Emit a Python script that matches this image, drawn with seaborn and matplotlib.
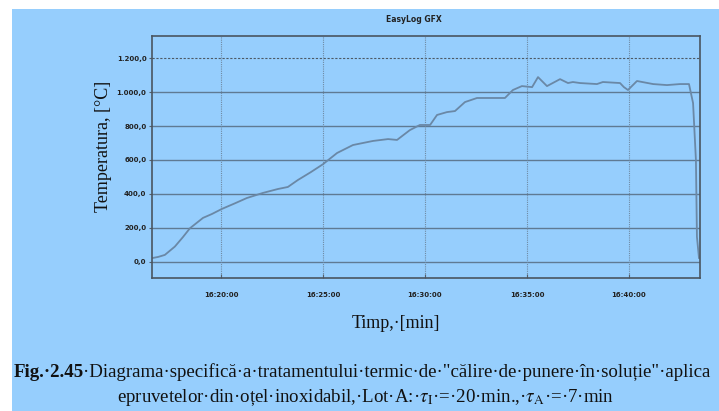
import matplotlib
matplotlib.use("Agg")
import matplotlib.pyplot as plt
import seaborn as sns
import pandas as pd
from matplotlib.patches import Rectangle

# minutes after 16:00
minutes = [16.62, 16.92, 17.25, 17.74, 18.13, 18.48, 19.12, 19.56, 20.05, 20.69,
           21.27, 22.06, 22.79, 23.28, 23.77, 24.40,
           25.0, 25.69, 26.47, 27.45, 28.19, 28.63, 29.26, 29.75, 30.25, 30.59,
           31.08, 31.47, 31.96, 32.55, 33.68, 33.92, 34.31, 34.75, 35.25, 35.54,
           35.98, 36.62, 37.01, 37.25, 37.60, 38.43, 38.72, 39.56, 39.75, 39.95,
           40.39, 41.18, 41.86, 42.50, 42.94, 43.14, 43.28, 43.33, 43.43]
temperature = [22, 29, 41, 90, 145, 198, 259, 282, 312, 345,
               376, 406, 429, 441, 482, 528,
               575, 641, 688, 712, 723, 718, 776, 806, 806, 865,
               882, 888, 941, 965, 965, 965, 1012, 1035, 1029, 1088,
               1035, 1076, 1053, 1059, 1053, 1047, 1059, 1053, 1029, 1012,
               1065, 1047, 1041, 1047, 1047, 935, 600, 147, 23]

x_ticks = [20, 25, 30, 35, 40]
x_tick_labels = ["16:20:00", "16:25:00", "16:30:00", "16:35:00", "16:40:00"]
y_ticks = [0, 200, 400, 600, 800, 1000, 1200]
y_tick_labels = ["0,0", "200,0", "400,0", "600,0", "800,0", "1.000,0", "1.200,0"]

df = pd.DataFrame({"t": minutes, "T": temperature})

BLUE = "#96cefd"
W, H = 719, 411
fig = plt.figure(figsize=(W / 100, H / 100), dpi=100, facecolor="white")
plt.rcParams["mathtext.fontset"] = "stix"

# blue background block
fig.patches.append(Rectangle((12 / W, 0), 1 - 12 / W, 1 - 9 / H,
                             transform=fig.transFigure, facecolor=BLUE,
                             edgecolor="none", zorder=-10))

ax = fig.add_axes([152 / W, 1 - 278 / H, (700 - 152) / W, (278 - 36) / H])
ax.set_facecolor(BLUE)

sns.lineplot(data=df, x="t", y="T", ax=ax, color="#6a88a6", linewidth=1.3)

ax.set_xlim(16.62, 43.48)
ax.set_ylim(-95, 1330)
ax.set_xticks(x_ticks)
ax.set_xticklabels(x_tick_labels)
ax.set_yticks(y_ticks)
ax.set_yticklabels(y_tick_labels)
ax.set_xlabel("")
ax.set_ylabel("")

for lab in ax.get_xticklabels() + ax.get_yticklabels():
    lab.set_fontsize(5)
    lab.set_fontweight("bold")
    lab.set_color("#222222")

ax.tick_params(axis="x", direction="in", length=3, width=0.8, color="#55606b", pad=10)
ax.tick_params(axis="y", direction="out", length=2, width=0.8, color="#55606b", pad=2)

for y in y_ticks:
    if y == 1200:
        ax.axhline(y, color="#4d5a66", linewidth=0.8, linestyle=(0, (2, 1.5)), zorder=0)
    else:
        ax.axhline(y, color="#5f7a93", linewidth=1.0, zorder=0)
for x in x_ticks:
    ax.axvline(x, color="#6f8aa3", linewidth=0.8, linestyle=(0, (1, 1)), zorder=0)

for s in ax.spines.values():
    s.set_color("#4a5560")
    s.set_linewidth(1.2)

fig.text(414 / W, 1 - 20 / H, "EasyLog GFX", fontsize=5.5, fontweight="bold",
         ha="center", va="center", color="#222222", family="DejaVu Sans")
fig.text(103 / W, 1 - 146 / H, "Temperatura, [°C]", rotation=90, fontsize=13,
         family="Liberation Serif", ha="center", va="center", color="#111111")
fig.text(396 / W, 1 - 323 / H, "Timp,·[min]", fontsize=13,
         family="Liberation Serif", ha="center", va="center", color="#111111")

# caption
cap_size = 13.6
t1 = fig.text(14 / W, 1 - 372 / H, "Fig.·2.45", fontsize=cap_size, fontweight="bold",
              family="Liberation Serif", ha="left", va="center", color="#111111")
fig.canvas.draw()
bb = t1.get_window_extent()
fig.text(bb.x1 / W - 0.002, 1 - 372 / H,
         "·Diagrama·specifică·a·tratamentului·termic·de·\"călire·de·punere·în·soluție\"·aplica",
         fontsize=cap_size, family="Liberation Serif", ha="left", va="center", color="#111111")
fig.text(366 / W, 1 - 397 / H,
         r"epruvetelor·din·oțel·inoxidabil,·Lot·A:·$\tau_{\mathrm{I}}$·=·20·min.,·$\tau_{\mathrm{A}}$·=·7·min",
         fontsize=cap_size, family="Liberation Serif", ha="center", va="center", color="#111111")

fig.savefig("out.png", dpi=100, facecolor="white")
